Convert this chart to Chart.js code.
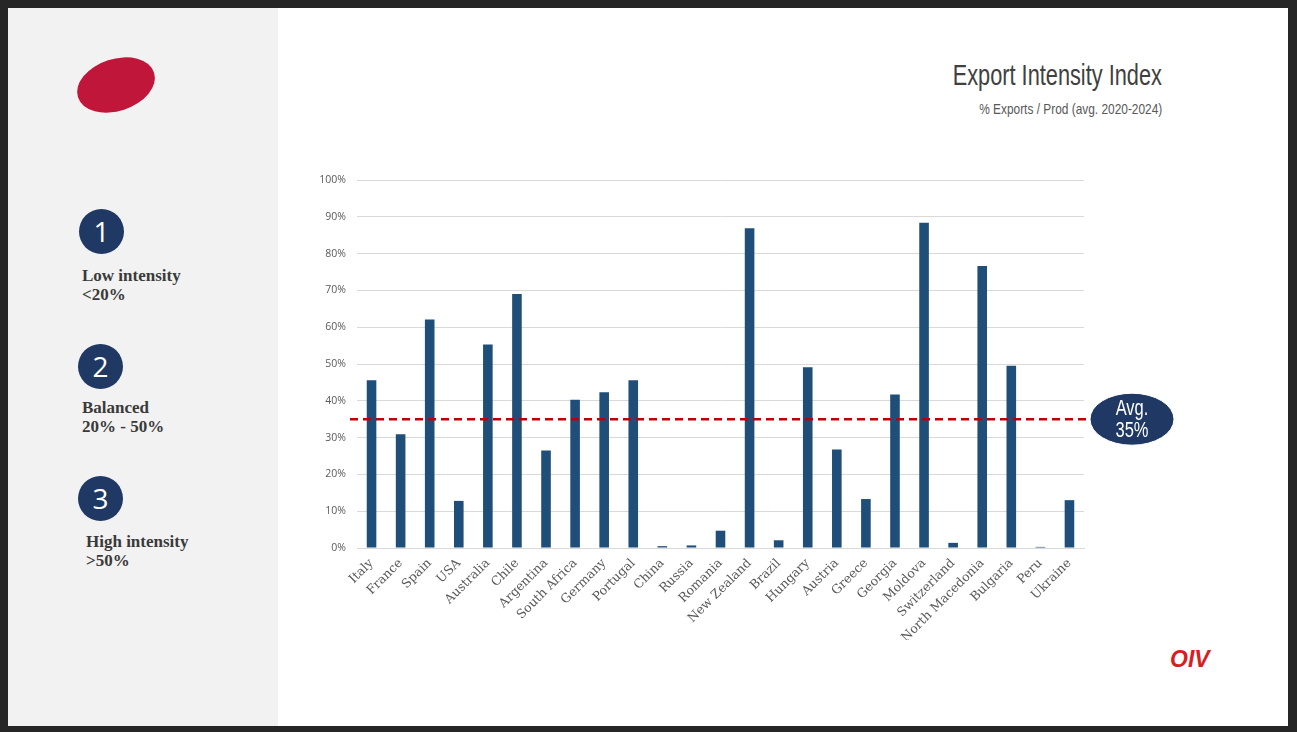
<!DOCTYPE html>
<html>
<head>
<meta charset="utf-8">
<script src="https://cdn.jsdelivr.net/npm/chart.js@4"></script>
<style>
  body { margin: 0; background: #262626; width: 1297px; height: 732px; overflow: hidden; }
  .slide { position: absolute; left: 8px; top: 8px; width: 1280px; height: 718px; background: #fff; }
  .side { position: absolute; left: 0; top: 0; width: 270px; height: 718px; background: #f2f2f2; }
  .blob { position: absolute; left: 68px; top: 51px; width: 80px; height: 52px; background: #c0163a; border-radius: 50%; transform: rotate(-18deg); }
  .num { position: absolute; width: 45px; height: 45px; border-radius: 50%; background: #1f3864; color: #fff;
         font: 28px "Open Sans", sans-serif; text-align: center; line-height: 45px; }
  .step { position: absolute; font: bold 17px "Liberation Serif", serif; color: #3a3a3a; line-height: 19px; }
  .title { position: absolute; right: 126px; top: 51px; font: 29px "Liberation Sans", sans-serif; color: #404040;
           transform: scaleX(0.75); transform-origin: right center; white-space: nowrap; }
  .subtitle { position: absolute; right: 126px; top: 93px; font: 14.5px "Liberation Sans", sans-serif; color: #595959;
              transform: scaleX(0.82); transform-origin: right center; white-space: nowrap; }
  .oiv { position: absolute; left: 1162px; top: 638px; font: italic bold 23px "Liberation Sans", sans-serif; color: #d6201f; }
  canvas { position: absolute; left: 282px; top: 162px; }
</style>
</head>
<body>
<div class="slide">
  <div class="side"></div>
  <div class="blob"></div>
  <div class="num" style="left:71px; top:201px;">1</div>
  <div class="step" style="left:74px; top:258px;">Low intensity<br>&lt;20%</div>
  <div class="num" style="left:70px; top:336px;">2</div>
  <div class="step" style="left:74px; top:390px;">Balanced<br>20% - 50%</div>
  <div class="num" style="left:70px; top:468px;">3</div>
  <div class="step" style="left:78px; top:524px;">High intensity<br>&gt;50%</div>
  <div class="title">Export Intensity Index</div>
  <div class="subtitle">% Exports / Prod (avg. 2020-2024)</div>
  <div class="oiv">OIV</div>
</div>
<canvas id="chart" width="900" height="478"></canvas>
<script>
const countries = ['Italy', 'France', 'Spain', 'USA', 'Australia', 'Chile', 'Argentina', 'South Africa', 'Germany', 'Portugal',
  'China', 'Russia', 'Romania', 'New Zealand', 'Brazil', 'Hungary', 'Austria', 'Greece', 'Georgia', 'Moldova',
  'Switzerland', 'North Macedonia', 'Bulgaria', 'Peru', 'Ukraine'];
const exportIntensity = [45.6, 30.9, 62.1, 12.8, 55.3, 69.0, 26.5, 40.3, 42.3, 45.6,
  0.5, 0.7, 4.7, 86.9, 2.1, 49.1, 26.8, 13.3, 41.7, 88.4,
  1.4, 76.6, 49.5, 0.3, 13.0];
const averageIntensity = 35;
const avgLabel = ['Avg.', '35%'];

// dashed average line + the oval label at its right end
const averageLine = {
  id: 'averageLine',
  afterDatasetsDraw(chart) {
    const { ctx, chartArea, scales } = chart;
    const y = scales.y.getPixelForValue(averageIntensity);
    const cx = chartArea.right + 48;
    ctx.save();
    ctx.strokeStyle = '#c00000';
    ctx.lineWidth = 2.5;
    ctx.setLineDash([8, 5]);
    ctx.beginPath();
    ctx.moveTo(chartArea.left - 7, y);
    ctx.lineTo(cx - 40, y);
    ctx.stroke();
    ctx.setLineDash([]);
    ctx.fillStyle = '#1f3864';
    ctx.strokeStyle = '#fff';
    ctx.lineWidth = 1;
    ctx.beginPath();
    ctx.ellipse(cx, y, 42, 26, 0, 0, Math.PI * 2);
    ctx.fill();
    ctx.stroke();
    // condensed look for the label
    ctx.translate(cx, y);
    ctx.scale(0.75, 1);
    ctx.fillStyle = '#fff';
    ctx.font = '22px "Liberation Sans", sans-serif';
    ctx.textAlign = 'center';
    ctx.textBaseline = 'middle';
    ctx.fillText(avgLabel[0], 0, -10);
    ctx.fillText(avgLabel[1], 0, 12);
    ctx.restore();
  }
};

new Chart(document.getElementById('chart'), {
  type: 'bar',
  data: {
    labels: countries,
    datasets: [{
      data: exportIntensity,
      backgroundColor: '#1f4e79',
      categoryPercentage: 1,
      barPercentage: 0.33
    }]
  },
  options: {
    responsive: false,
    animation: false,
    layout: { padding: { top: 18, right: 98, bottom: 0, left: 0 } },
    plugins: { legend: { display: false }, tooltip: { enabled: false } },
    scales: {
      x: {
        afterFit(scale) { scale.height = 92; },
        grid: { display: false, drawTicks: false },
        border: { color: '#d9d9d9', width: 1 },
        ticks: {
          minRotation: 45, maxRotation: 45, autoSkip: false, padding: 8,
          color: '#595959', font: { family: '"DejaVu Serif", serif', size: 12.5 }
        }
      },
      y: {
        min: 0, max: 100,
        afterFit(scale) { scale.width = 75; },
        grid: { color: '#d9d9d9', drawTicks: false },
        border: { display: false },
        ticks: {
          stepSize: 10, padding: 11,
          color: '#595959', font: { family: '"Open Sans", sans-serif', size: 10.5 },
          callback: (v) => v + '%'
        }
      }
    }
  },
  plugins: [averageLine]
});
</script>
</body>
</html>
